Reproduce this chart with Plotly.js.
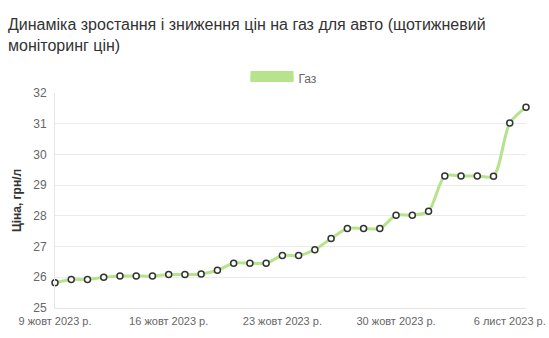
<!DOCTYPE html>
<html>
<head>
<meta charset="utf-8">
<script src="https://cdn.plot.ly/plotly-3.0.1.min.js"></script>
<style>
html,body{margin:0;padding:0;background:#fff;}
#chart{width:549px;height:338px;}
</style>
</head>
<body>
<div id="chart"></div>
<script>
const dates = [
  "2023-10-09","2023-10-10","2023-10-11","2023-10-12","2023-10-13","2023-10-14","2023-10-15",
  "2023-10-16","2023-10-17","2023-10-18","2023-10-19","2023-10-20","2023-10-21","2023-10-22",
  "2023-10-23","2023-10-24","2023-10-25","2023-10-26","2023-10-27","2023-10-28","2023-10-29",
  "2023-10-30","2023-10-31","2023-11-01","2023-11-02","2023-11-03","2023-11-04","2023-11-05",
  "2023-11-06","2023-11-07"
];
const gasPrices = [
  25.82, 25.93, 25.93, 26.00, 26.04, 26.04, 26.04,
  26.09, 26.09, 26.11, 26.23, 26.46, 26.46, 26.46,
  26.71, 26.71, 26.90, 27.26, 27.59, 27.59, 27.59,
  28.02, 28.02, 28.15, 29.30, 29.30, 29.30, 29.29,
  31.02, 31.54
];
const seriesName = "Газ";
const tickDates = ["2023-10-09","2023-10-16","2023-10-23","2023-10-30","2023-11-06"];
const tickLabels = ["9 жовт 2023 р.","16 жовт 2023 р.","23 жовт 2023 р.","30 жовт 2023 р.","6 лист 2023 р."];
const titleText = "Динаміка зростання і зниження цін на газ для авто (щотижневий<br>моніторинг цін)";
const yTitle = "Ціна, грн/л";

const green = "#b5e48c";
const font = "Liberation Sans, Arial, sans-serif";

const traces = [
  {
    x: dates, y: gasPrices, type: "scatter", mode: "lines+markers",
    name: seriesName, showlegend: false, cliponaxis: false,
    line: {color: green, width: 3, shape: "spline", smoothing: 0.8},
    marker: {size: 6, color: "#ffffff", line: {color: "#333333", width: 1.5}}
  },
  {
    x: [null], y: [null], type: "scatter", mode: "lines",
    name: seriesName, showlegend: true,
    fill: "toself", fillcolor: green,
    line: {color: green, width: 10}
  }
];

const layout = {
  width: 549, height: 338,
  margin: {l: 55, r: 23, t: 93, b: 30},
  paper_bgcolor: "#ffffff", plot_bgcolor: "#ffffff",
  font: {family: font, size: 12, color: "#666666"},
  title: {
    text: titleText, x: 8/549, xanchor: "left", xref: "container",
    y: 1 - 30/338, yanchor: "top", yref: "container",
    font: {family: font, size: 16, color: "#333333", lineposition: "none"}
  },
  showlegend: true,
  legend: {
    orientation: "h", x: 284/549, xanchor: "center", xref: "container",
    y: 1 - 78/338, yanchor: "middle", yref: "container",
    font: {family: font, size: 12, color: "#666666"}, itemwidth: 43
  },
  xaxis: {
    type: "date", range: ["2023-10-09", "2023-11-07"],
    tickmode: "array", tickvals: tickDates, ticktext: tickLabels,
    showgrid: false, zeroline: false,
    showline: true, linecolor: "#e5e5e5", linewidth: 1,
    ticks: "", ticklabelstandoff: 3, ticklabeloverflow: "allow",
    tickfont: {family: font, size: 11, color: "#666666"}
  },
  yaxis: {
    range: [25, 32], dtick: 1, tick0: 25,
    showgrid: true, gridcolor: "#ebebeb", gridwidth: 1, zeroline: false,
    showline: true, linecolor: "#e5e5e5", linewidth: 1,
    ticks: "", ticklabelstandoff: 5,
    tickfont: {family: font, size: 12, color: "#666666"},
    title: {text: yTitle, standoff: 9, font: {family: font, size: 12, color: "#333333", weight: "bold"}}
  }
};

Plotly.newPlot("chart", traces, layout, {displayModeBar: false, staticPlot: true});
</script>
</body>
</html>
